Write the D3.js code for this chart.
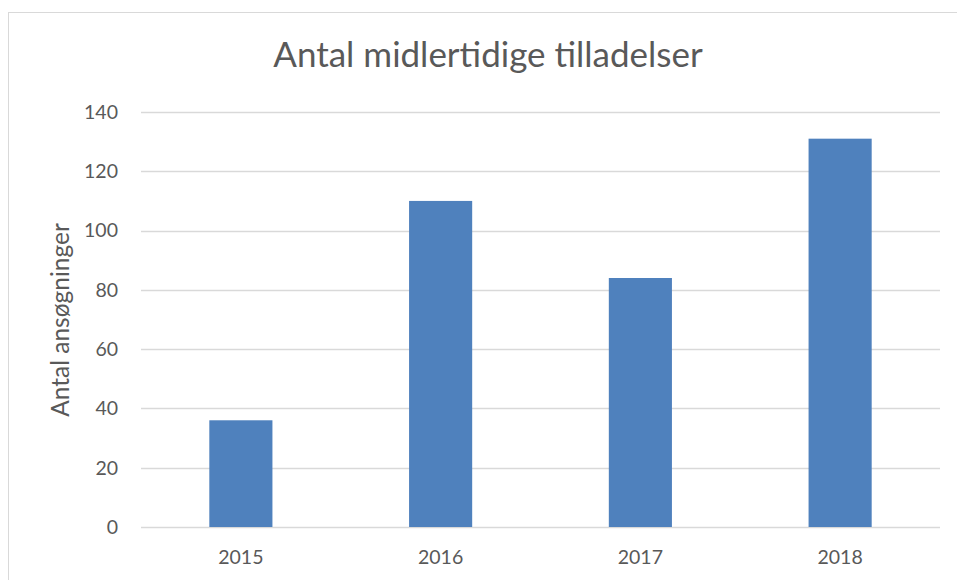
<!DOCTYPE html>
<html><head><meta charset="utf-8">
<script src="https://cdn.jsdelivr.net/npm/d3@7"></script>
<style>body{margin:0;background:#fff}svg{display:block}</style>
</head><body>
<script>
const categories = ["2015","2016","2017","2018"];
const values = [36,110,84,131];
const yTicks = [0,20,40,60,80,100,120,140];
const title = "Antal midlertidige tilladelser";
const yTitle = "Antal ansøgninger";

const W=957,H=580;
const svg=d3.select("body").append("svg").attr("width",W).attr("height",H);
svg.append("rect").attr("x",8.5).attr("y",12.5).attr("width",W+10).attr("height",H+10)
  .attr("fill","#fff").attr("stroke","#d9d9d9").attr("stroke-width",1);
const font="Lato, 'Open Sans', sans-serif";
const L=141,R=940,T=112,B=527;
const x=d3.scaleBand().domain(categories).range([L,R]).paddingInner(0.684).paddingOuter(0.342);
const y=d3.scaleLinear().domain([0,140]).range([B,T]);

svg.append("g").selectAll("line").data(yTicks).join("line")
  .attr("x1",L).attr("x2",R).attr("y1",d=>Math.round(y(d))+0.5).attr("y2",d=>Math.round(y(d))+0.5)
  .attr("stroke","#d9d9d9").attr("stroke-width",1.5);
svg.append("g").selectAll("text").data(yTicks).join("text")
  .attr("x",118).attr("y",d=>y(d)).attr("dy","0.35em").attr("text-anchor","end")
  .attr("font-family",font).attr("font-size",19.5).attr("fill","#595959").text(d=>d);
svg.append("g").selectAll("rect").data(values).join("rect")
  .attr("x",(d,i)=>x(categories[i])).attr("width",x.bandwidth())
  .attr("y",d=>y(d)).attr("height",d=>B-y(d)).attr("fill","#4f81bd");
svg.append("g").selectAll("text").data(categories).join("text")
  .attr("x",d=>x(d)+x.bandwidth()/2).attr("y",564).attr("text-anchor","middle")
  .attr("font-family",font).attr("font-size",19.5).attr("fill","#595959").text(d=>d);
svg.append("text").attr("x",488).attr("y",67).attr("text-anchor","middle")
  .attr("font-family",font).attr("font-size",35).attr("fill","#595959").text(title);
svg.append("text").attr("transform","translate(69,320) rotate(-90)").attr("text-anchor","middle")
  .attr("font-family",font).attr("font-size",24.5).attr("fill","#595959").text(yTitle);
</script>
</body></html>
